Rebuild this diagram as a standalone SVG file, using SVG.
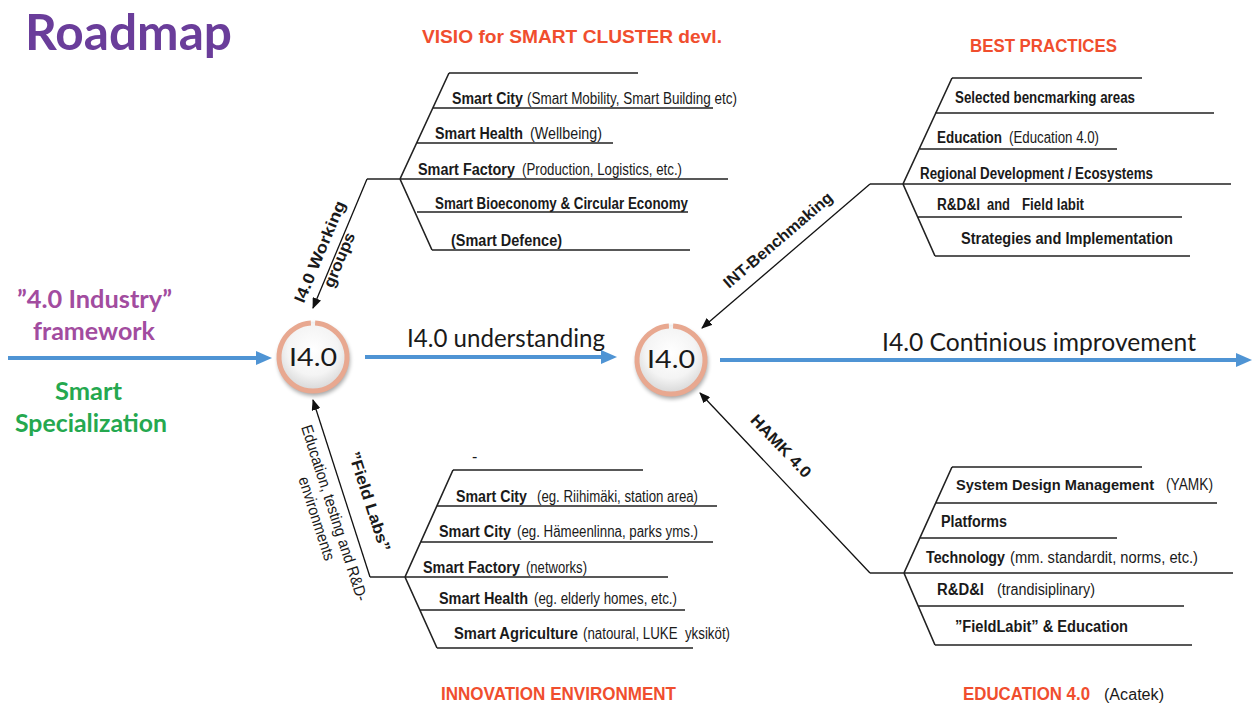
<svg xmlns="http://www.w3.org/2000/svg" xmlns:xlink="http://www.w3.org/1999/xlink" width="1254" height="708" viewBox="0 0 1254 708">
<style>
.t{font-family:"Liberation Sans",Arial,sans-serif;font-size:16px;fill:#1a1a1a}
.b{font-weight:bold}
.ln{stroke:#222;stroke-width:1.6;fill:none}
.red{font-family:"Liberation Sans",Arial,sans-serif;font-weight:bold;font-size:18px;fill:#f04e2e}
.cal{font-family:Lato,"Open Sans",sans-serif}
.blue{stroke:#4f94d4;stroke-width:4;fill:none;marker-end:url(#bah)}
.arr{stroke:#111;stroke-width:1.3;fill:none;marker-end:url(#kah)}
.ctext{font-family:Lato,"Open Sans",sans-serif;font-size:25px;fill:#1a1a1a;text-anchor:middle}
</style>
<defs>
<marker id="bah" markerUnits="userSpaceOnUse" markerWidth="16" markerHeight="14" refX="6" refY="7" orient="auto"><path d="M0,0 L16,7 L0,14 z" fill="#4f94d4"/></marker>
<marker id="kah" markerUnits="userSpaceOnUse" markerWidth="11" markerHeight="9" refX="10" refY="4.5" orient="auto"><path d="M0,0 L11,4.5 L0,9 z" fill="#111"/></marker>
<radialGradient id="rg" cx="0.5" cy="0.4" r="0.6"><stop offset="0" stop-color="#ffffff"/><stop offset="0.6" stop-color="#f4f4f4"/><stop offset="1" stop-color="#d4d4d4"/></radialGradient>
<filter id="blur" x="-30%" y="-30%" width="160%" height="160%"><feGaussianBlur stdDeviation="2.2"/></filter>
<g id="disc">
<circle cx="1" cy="3" r="36" fill="#000" opacity="0.35" filter="url(#blur)"/>
<circle r="35" fill="url(#rg)"/>
<path d="M2.1,-33.9 A34,34 0 1 1 -2.1,-33.9" stroke="#e8a890" stroke-width="5" fill="none"/>
</g>
</defs>
<rect width="1254" height="708" fill="#fff"/>

<g id="title">
<text class="cal" x="25" y="50" font-size="50" font-weight="bold" fill="#6a3d9a" textLength="207" lengthAdjust="spacingAndGlyphs">Roadmap</text>
</g>

<g id="left-labels" class="cal" font-weight="bold" font-size="24">
<text x="17" y="308" fill="#a24c9f" textLength="155" lengthAdjust="spacingAndGlyphs">”4.0 Industry”</text>
<text x="33" y="340" fill="#a24c9f" textLength="122" lengthAdjust="spacingAndGlyphs">framework</text>
<text x="55" y="400" fill="#25a84f" textLength="67" lengthAdjust="spacingAndGlyphs">Smart</text>
<text x="15" y="432" fill="#25a84f" textLength="152" lengthAdjust="spacingAndGlyphs">Specialization</text>
</g>

<g id="connectors">
<line class="blue" x1="8" y1="358" x2="262" y2="358"/>
<line class="blue" x1="365" y1="357" x2="607" y2="357"/>
<line class="blue" x1="720" y1="360" x2="1242" y2="360"/>
<line class="arr" x1="367" y1="179" x2="313" y2="308"/>
<line class="arr" x1="370" y1="577" x2="313" y2="400"/>
<line class="arr" x1="870" y1="184" x2="702" y2="328"/>
<line class="arr" x1="870" y1="573" x2="700" y2="393"/>
<text class="cal" x="407" y="347" font-size="25" fill="#1a1a1a" textLength="198" lengthAdjust="spacingAndGlyphs">I4.0 understanding</text>
<text class="cal" x="882" y="351" font-size="25" fill="#1a1a1a" textLength="314" lengthAdjust="spacingAndGlyphs">I4.0 Continious improvement</text>
<g transform="translate(334,257.7) rotate(-67.3)" class="t b" text-anchor="middle">
<text x="0" y="-10" textLength="109" lengthAdjust="spacingAndGlyphs">I4.0 Working</text>
<text x="0" y="11" textLength="58" lengthAdjust="spacingAndGlyphs">groups</text>
</g>
<g transform="translate(348.2,508.4) rotate(72.1)" text-anchor="middle">
<text class="t b" x="0" y="-17" textLength="104" lengthAdjust="spacingAndGlyphs">”Field Labs”</text>
<text class="t" x="0" y="20" textLength="184" lengthAdjust="spacingAndGlyphs">Education, testing and R&amp;D-</text>
<text class="t" x="0" y="38.5" textLength="87" lengthAdjust="spacingAndGlyphs">environments</text>
</g>
<g transform="translate(789.3,253.2) rotate(-40.6)">
<text class="t b" x="0" y="-12" text-anchor="middle" textLength="138" lengthAdjust="spacingAndGlyphs">INT-Benchmaking</text>
</g>
<g transform="translate(764.7,461.5) rotate(46.6)">
<text class="t b" x="0" y="-17" text-anchor="middle" textLength="80" lengthAdjust="spacingAndGlyphs">HAMK 4.0</text>
</g>
</g>

<g id="node-i40-left" transform="translate(313,357)">
<use xlink:href="#disc"/>
<text class="ctext" x="0" y="9" textLength="48" lengthAdjust="spacingAndGlyphs">I4.0</text>
</g>
<g id="node-i40-right" transform="translate(671,360)">
<use xlink:href="#disc"/>
<text class="ctext" x="0" y="8" textLength="48" lengthAdjust="spacingAndGlyphs">I4.0</text>
</g>

<g id="visio">
<text class="red" x="422" y="43" textLength="300" lengthAdjust="spacingAndGlyphs">VISIO for SMART CLUSTER devl.</text>
<path class="ln" d="M449,73 H638 M449,73 L400,179 L432,250 M433,108 H713 M417,143 H613 M367,179 H728 M417,212 H688 M432,250 H690"/>
<text class="t b" x="452" y="104" textLength="71" lengthAdjust="spacingAndGlyphs">Smart City</text>
<text class="t" x="527" y="104" textLength="210" lengthAdjust="spacingAndGlyphs">(Smart Mobility, Smart Building etc)</text>
<text class="t b" x="435" y="139" textLength="88" lengthAdjust="spacingAndGlyphs">Smart Health</text>
<text class="t" x="530" y="139" textLength="72" lengthAdjust="spacingAndGlyphs">(Wellbeing)</text>
<text class="t b" x="418" y="175" textLength="97" lengthAdjust="spacingAndGlyphs">Smart Factory</text>
<text class="t" x="522" y="175" textLength="160" lengthAdjust="spacingAndGlyphs">(Production, Logistics, etc.)</text>
<text class="t b" x="435" y="209" textLength="253" lengthAdjust="spacingAndGlyphs">Smart Bioeconomy &amp; Circular Economy</text>
<text class="t b" x="451" y="246" textLength="111" lengthAdjust="spacingAndGlyphs">(Smart Defence)</text>
</g>

<g id="best-practices">
<text class="red" x="970" y="52" textLength="147" lengthAdjust="spacingAndGlyphs">BEST PRACTICES</text>
<path class="ln" d="M952,78 H1142 M952,78 L903,184 L935,256 M935,113 H1214 M920,149 H1117 M870,184 H1231 M918,217 H1182 M935,256 H1190"/>
<text class="t b" x="955" y="103" textLength="180" lengthAdjust="spacingAndGlyphs">Selected bencmarking areas</text>
<text class="t b" x="937" y="143" textLength="65" lengthAdjust="spacingAndGlyphs">Education</text>
<text class="t" x="1009" y="143" textLength="90" lengthAdjust="spacingAndGlyphs">(Education 4.0)</text>
<text class="t b" x="920" y="179" textLength="233" lengthAdjust="spacingAndGlyphs">Regional Development / Ecosystems</text>
<text class="t b" x="937" y="210" textLength="43" lengthAdjust="spacingAndGlyphs">R&amp;D&amp;I</text>
<text class="t b" x="987" y="210" textLength="23" lengthAdjust="spacingAndGlyphs">and</text>
<text class="t b" x="1022" y="210" textLength="62" lengthAdjust="spacingAndGlyphs">Field labit</text>
<text class="t b" x="961" y="244" textLength="212" lengthAdjust="spacingAndGlyphs">Strategies and Implementation</text>
</g>

<g id="innovation-environment">
<text class="red" x="441" y="700" textLength="235" lengthAdjust="spacingAndGlyphs">INNOVATION ENVIRONMENT</text>
<text class="t" x="472" y="462">-</text>
<path class="ln" d="M453,470 H643 M453,470 L405,577 L437,648 M437,506 H717 M421,542 H713 M370,577 H668 M420,610 H685 M437,648 H693"/>
<text class="t b" x="456" y="502" textLength="71" lengthAdjust="spacingAndGlyphs">Smart City</text>
<text class="t" x="537" y="502" textLength="161" lengthAdjust="spacingAndGlyphs">(eg. Riihimäki, station area)</text>
<text class="t b" x="439" y="537" textLength="72" lengthAdjust="spacingAndGlyphs">Smart City</text>
<text class="t" x="517" y="537" textLength="181" lengthAdjust="spacingAndGlyphs">(eg. Hämeenlinna, parks yms.)</text>
<text class="t b" x="423" y="573" textLength="97" lengthAdjust="spacingAndGlyphs">Smart Factory</text>
<text class="t" x="526" y="573" textLength="61" lengthAdjust="spacingAndGlyphs">(networks)</text>
<text class="t b" x="439" y="604" textLength="89" lengthAdjust="spacingAndGlyphs">Smart Health</text>
<text class="t" x="534" y="604" textLength="143" lengthAdjust="spacingAndGlyphs">(eg. elderly homes, etc.)</text>
<text class="t b" x="454" y="639" textLength="124" lengthAdjust="spacingAndGlyphs">Smart Agriculture</text>
<text class="t" x="583" y="639" textLength="147" lengthAdjust="spacingAndGlyphs" style="white-space:pre">(natoural, LUKE  yksiköt)</text>
</g>

<g id="education-40">
<text class="red" x="963" y="700" textLength="127" lengthAdjust="spacingAndGlyphs">EDUCATION 4.0</text>
<text class="t" x="1104" y="700" textLength="60" lengthAdjust="spacingAndGlyphs">(Acatek)</text>
<path class="ln" d="M952,467 H1142 M952,467 L904,573 L935,645 M936,503 H1217 M920,538 H1117 M870,573 H1233 M918,606 H1184 M935,645 H1192"/>
<text class="t b" x="956" y="490" font-size="15" style="font-size:15px" textLength="198" lengthAdjust="spacingAndGlyphs">System Design Management</text>
<text class="t" x="1166" y="490" textLength="47" lengthAdjust="spacingAndGlyphs">(YAMK)</text>
<text class="t b" x="941" y="527" textLength="66" lengthAdjust="spacingAndGlyphs">Platforms</text>
<text class="t b" x="926" y="563" textLength="79" lengthAdjust="spacingAndGlyphs">Technology</text>
<text class="t" x="1010" y="563" textLength="188" lengthAdjust="spacingAndGlyphs">(mm. standardit, norms, etc.)</text>
<text class="t b" x="937" y="595" textLength="47" lengthAdjust="spacingAndGlyphs">R&amp;D&amp;I</text>
<text class="t" x="997" y="595" textLength="98" lengthAdjust="spacingAndGlyphs">(trandisiplinary)</text>
<text class="t b" x="955" y="632" textLength="173" lengthAdjust="spacingAndGlyphs">”FieldLabit” &amp; Education</text>
</g>
</svg>
